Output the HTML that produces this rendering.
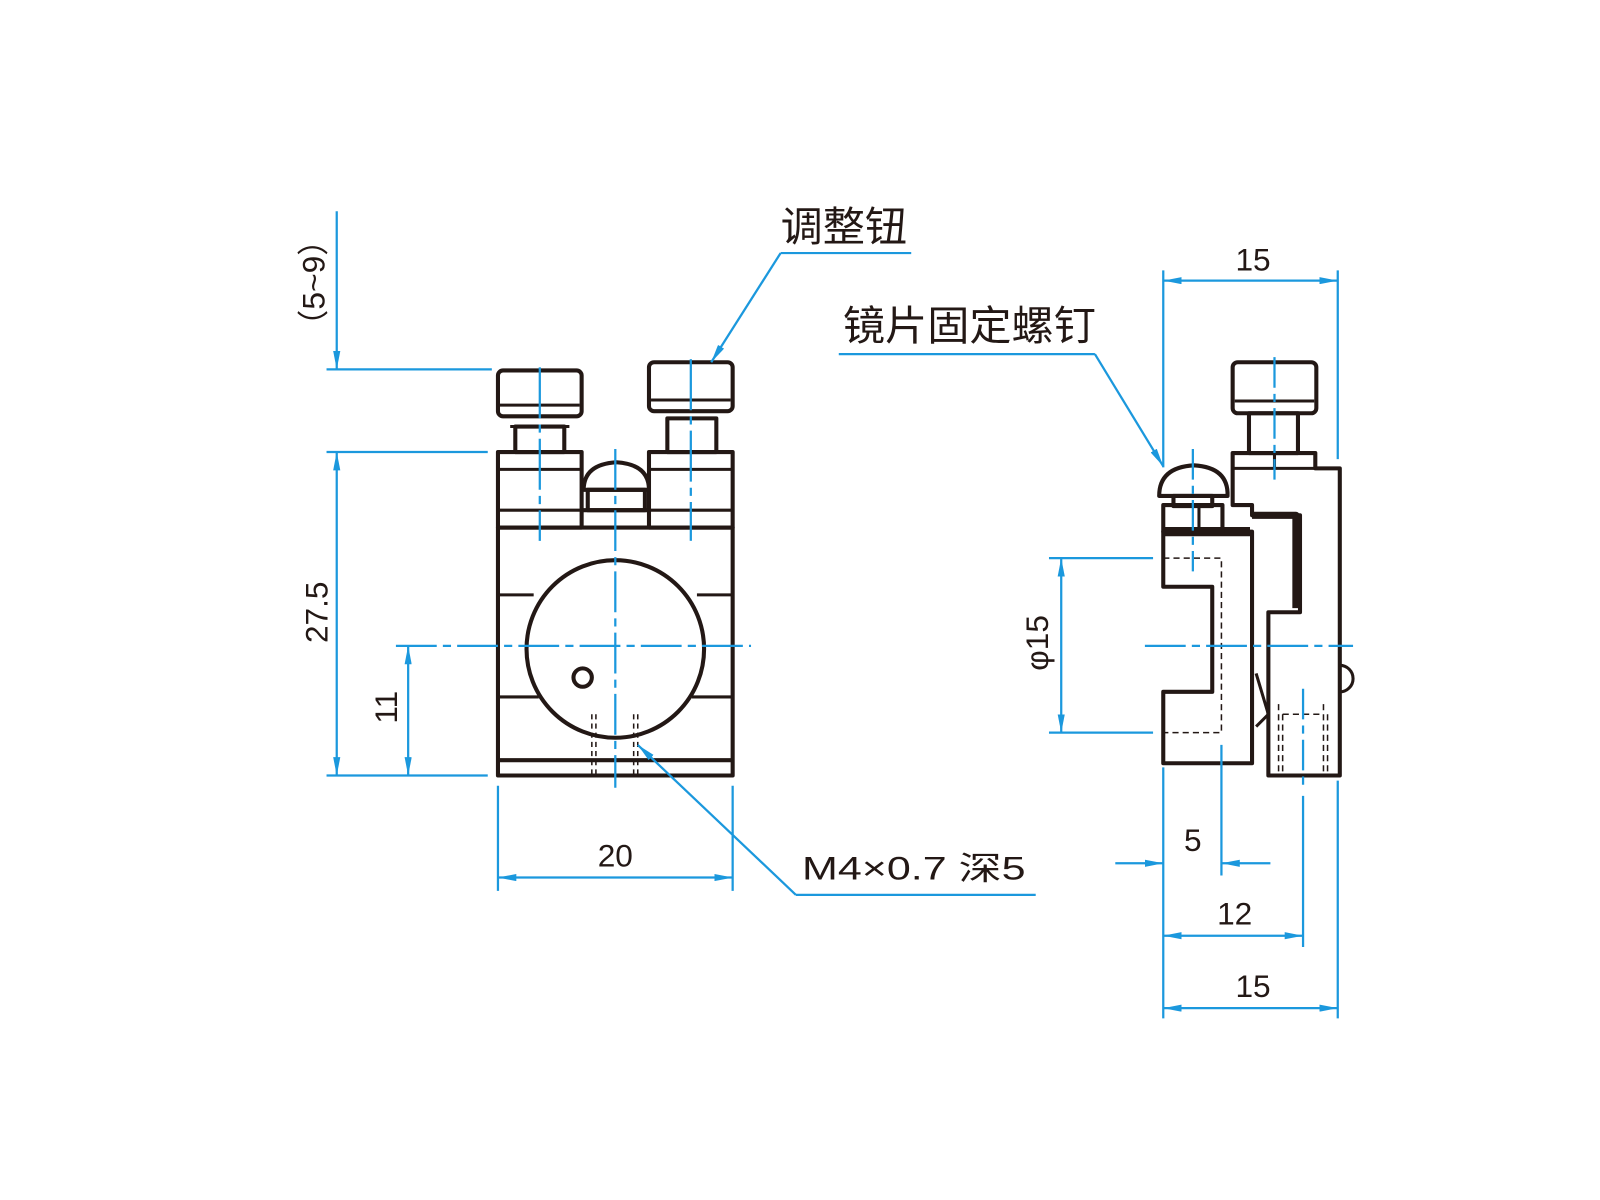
<!DOCTYPE html>
<html><head><meta charset="utf-8"><style>html,body{margin:0;padding:0;background:#fff}svg{display:block}</style></head>
<body>
<svg width="1600" height="1200" viewBox="0 0 1568 1176" xmlns="http://www.w3.org/2000/svg">
<defs>
<marker id="a" viewBox="0 0 10 10" refX="10" refY="5" markerWidth="18" markerHeight="7" markerUnits="userSpaceOnUse" orient="auto-start-reverse" preserveAspectRatio="none"><path d="M0,0 L10,5 L0,10 z" fill="#1b98dd"/></marker>
</defs>
<g fill="none" stroke="#231815" stroke-width="4" stroke-linejoin="round">
<!-- FRONT VIEW -->
<rect x="488" y="517" width="230" height="243"/>
<line x1="488" y1="745" x2="718" y2="745"/>
<rect x="488" y="443" width="82" height="74"/>
<line x1="488" y1="460" x2="570" y2="460" stroke-width="3"/>
<line x1="488" y1="500" x2="570" y2="500" stroke-width="3"/>
<rect x="636" y="443" width="82" height="74"/>
<line x1="636" y1="460" x2="718" y2="460" stroke-width="3"/>
<line x1="636" y1="500" x2="718" y2="500" stroke-width="3"/>
<rect x="488" y="363" width="82" height="45" rx="5"/>
<line x1="490" y1="397" x2="568" y2="397" stroke-width="3"/>
<rect x="505" y="418" width="48" height="25"/>
<line x1="500" y1="418" x2="558" y2="418" stroke-width="3"/>
<rect x="636" y="355" width="82" height="48" rx="5"/>
<line x1="638" y1="392" x2="716" y2="392" stroke-width="3"/>
<rect x="654" y="410" width="48" height="33"/>
<path d="M572,480 Q572,455 604,453 Q636,455 636,480 Z"/>
<rect x="576" y="480" width="56" height="20"/>
<line x1="570" y1="500" x2="636" y2="500"/>
<circle cx="603" cy="636" r="87"/>
<circle cx="571" cy="664" r="9" stroke-width="4"/>
<line x1="488" y1="583" x2="523" y2="583" stroke-width="3"/>
<line x1="683" y1="583" x2="718" y2="583" stroke-width="3"/>
<line x1="488" y1="683" x2="528" y2="683" stroke-width="3"/>
<line x1="678" y1="683" x2="718" y2="683" stroke-width="3"/>
<g stroke-width="1.5" stroke-dasharray="5 4"><line x1="580" y1="700" x2="580" y2="760"/><line x1="584" y1="700" x2="584" y2="760"/><line x1="621" y1="700" x2="621" y2="760"/><line x1="625" y1="700" x2="625" y2="760"/></g>
<!-- SIDE VIEW -->
<path d="M1140,521 L1227,521 L1227,748 L1140,748 L1140,678 L1188,678 L1188,575 L1140,575 Z"/>
<line x1="1140" y1="521" x2="1225" y2="521" stroke-width="9"/>
<rect x="1140" y="495" width="58" height="26"/>
<line x1="1175" y1="495" x2="1175" y2="521" stroke-width="3"/>
<path d="M1136,486 Q1136,458 1170,456 Q1204,458 1203,486 Z"/>
<rect x="1150" y="486" width="38" height="10"/>
<path d="M1208,444 L1289,444 L1289,459 L1313,459 L1313,760 L1243,760 L1243,600 L1274,600 L1274,505 L1227,505 L1227,495 L1208,495 Z"/>
<path d="M1227,505 L1270,505 L1270,596" stroke-width="7"/>
<line x1="1208" y1="459" x2="1289" y2="459" stroke-width="3"/>
<line x1="1249" y1="444" x2="1249" y2="459" stroke-width="3"/>
<rect x="1208" y="355" width="82" height="50" rx="5"/>
<line x1="1210" y1="393" x2="1288" y2="393" stroke-width="3"/>
<rect x="1224" y="405" width="48" height="39"/>
<path d="M1313,652 A10,10 0 0 1 1313,678" stroke-width="3"/>
<path d="M1231,660 L1243,700 L1231,712" stroke-width="3"/>
<g stroke-width="1.5" stroke-dasharray="6 4"><path d="M1140,547 L1197,547 L1197,718 L1140,718"/><line x1="1253" y1="690" x2="1253" y2="760"/><line x1="1257" y1="700" x2="1257" y2="760"/><line x1="1297" y1="690" x2="1297" y2="760"/><line x1="1301" y1="700" x2="1301" y2="760"/><line x1="1257" y1="700" x2="1297" y2="700"/></g>
</g>
<!-- BLUE -->
<g stroke="#1b98dd" stroke-width="2.2" fill="none">
<line x1="330" y1="207" x2="330" y2="362" marker-end="url(#a)"/>
<line x1="330" y1="443" x2="330" y2="760" marker-start="url(#a)" marker-end="url(#a)"/>
<line x1="320" y1="362" x2="482" y2="362"/>
<line x1="320" y1="443" x2="478" y2="443"/>
<line x1="320" y1="760" x2="478" y2="760"/>
<line x1="400" y1="633" x2="400" y2="760" marker-start="url(#a)" marker-end="url(#a)"/>
<line x1="388" y1="633" x2="736" y2="633" stroke-dasharray="40 6 8 6"/>
<line x1="603" y1="440" x2="603" y2="772" stroke-dasharray="40 6 8 6"/>
<line x1="529" y1="360" x2="529" y2="530" stroke-dasharray="50 6 8 6"/>
<line x1="677" y1="352" x2="677" y2="530" stroke-dasharray="50 6 8 6"/>
<line x1="488" y1="770" x2="488" y2="873"/>
<line x1="718" y1="770" x2="718" y2="873"/>
<line x1="488" y1="860" x2="718" y2="860" marker-start="url(#a)" marker-end="url(#a)"/>
<line x1="765" y1="248" x2="893" y2="248"/>
<line x1="765" y1="248" x2="697" y2="355" marker-end="url(#a)"/>
<line x1="822" y1="347" x2="1073" y2="347"/>
<line x1="1073" y1="347" x2="1140" y2="457" marker-end="url(#a)"/>
<line x1="780" y1="877" x2="1015" y2="877"/>
<line x1="780" y1="877" x2="625" y2="730" marker-end="url(#a)"/>
<!-- side -->
<line x1="1140" y1="265" x2="1140" y2="458"/>
<line x1="1311" y1="265" x2="1311" y2="450"/>
<line x1="1140" y1="275" x2="1311" y2="275" marker-start="url(#a)" marker-end="url(#a)"/>
<line x1="1122" y1="633" x2="1326" y2="633" stroke-dasharray="40 6 8 6"/>
<line x1="1169" y1="440" x2="1169" y2="560" stroke-dasharray="30 6 8 6"/>
<line x1="1249" y1="350" x2="1249" y2="470" stroke-dasharray="30 6 8 6"/>
<line x1="1277" y1="675" x2="1277" y2="770" stroke-dasharray="30 6 8 6"/>
<line x1="1028" y1="547" x2="1130" y2="547"/>
<line x1="1028" y1="718" x2="1130" y2="718"/>
<line x1="1040" y1="547" x2="1040" y2="718" marker-start="url(#a)" marker-end="url(#a)"/>
<line x1="1140" y1="752" x2="1140" y2="998"/>
<line x1="1197" y1="730" x2="1197" y2="858"/>
<line x1="1277" y1="780" x2="1277" y2="928"/>
<line x1="1311" y1="765" x2="1311" y2="998"/>
<line x1="1093" y1="846" x2="1140" y2="846" marker-end="url(#a)"/>
<line x1="1245" y1="846" x2="1197" y2="846" marker-end="url(#a)"/>
<line x1="1140" y1="917" x2="1277" y2="917" marker-start="url(#a)" marker-end="url(#a)"/>
<line x1="1140" y1="988" x2="1311" y2="988" marker-start="url(#a)" marker-end="url(#a)"/>
</g>
<g font-family="Liberation Sans, Noto Sans CJK SC, sans-serif" fill="#231815" font-size="31">
<text x="603" y="849" text-anchor="middle">20</text>
<text x="1228" y="265" text-anchor="middle">15</text>
<text x="1169" y="834" text-anchor="middle">5</text>
<text x="1210" y="906" text-anchor="middle">12</text>
<text x="1228" y="977" text-anchor="middle">15</text>
<text x="786" y="862" font-size="32" textLength="219" lengthAdjust="spacingAndGlyphs">M4×0.7 深5</text>
<text x="765" y="236" font-size="40" textLength="124" lengthAdjust="spacingAndGlyphs">调整钮</text>
<text x="826" y="333" font-size="40" textLength="248" lengthAdjust="spacingAndGlyphs">镜片固定螺钉</text>
<text transform="translate(321,600) rotate(-90)" text-anchor="middle">27.5</text>
<text transform="translate(389,693) rotate(-90)" text-anchor="middle">11</text>
<text transform="translate(318,277) rotate(-90)" text-anchor="middle" textLength="115" lengthAdjust="spacingAndGlyphs">（5~9）</text>
<text transform="translate(1027,630) rotate(-90)" text-anchor="middle">φ15</text>
</g>
</svg>
</body></html>
